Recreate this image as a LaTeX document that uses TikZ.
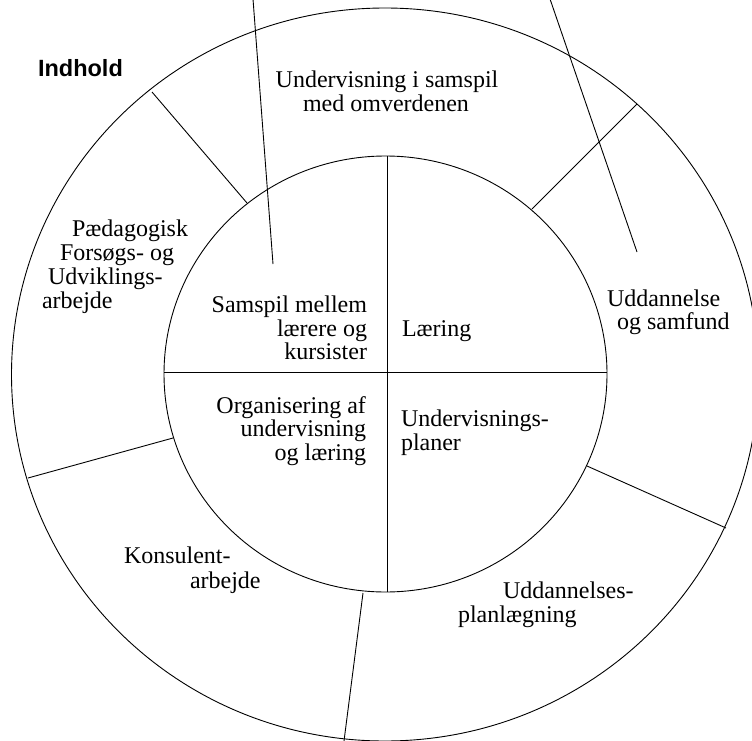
\documentclass[tikz,border=0pt]{standalone}
\usepackage{fontspec}
\setmainfont{Liberation Serif}
\newfontfamily\headfont{Liberation Sans}
\begin{document}
\begin{tikzpicture}[x=1pt,y=-1pt,
  ln/.style={line width=0.9pt, black},
  lbl/.style={inner sep=0pt, outer sep=0pt, font=\fontsize{24}{24}\selectfont},
  head/.style={inner sep=0pt, outer sep=0pt, font=\headfont\bfseries\fontsize{23.5}{24}\selectfont}]
\useasboundingbox (0,0) rectangle (752,741);
\fill[white] (0,0) rectangle (752,741);
\clip (0,0) rectangle (752,741);

% rings
\draw[ln] (385,374.5) ellipse [x radius=373.5pt, y radius=366.5pt];
\draw[ln] (385.5,374) ellipse [x radius=221.5pt, y radius=218pt];

% inner quadrants
\coordinate (iT) at (387,156);
\coordinate (iB) at (387,592);
\coordinate (iL) at (164,372);
\coordinate (iR) at (607,372);
\draw[ln] (iT) -- (iB);
\draw[ln] (iL) -- (iR);

% outer ring dividers
\coordinate (o1) at (152,92);   \coordinate (i1) at (247,203);
\coordinate (o2) at (637,104);  \coordinate (i2) at (532,209);
\coordinate (o3) at (726,528);  \coordinate (i3) at (587,466);
\coordinate (o4) at (344,741);  \coordinate (i4) at (363,593);
\coordinate (o5) at (28,478);   \coordinate (i5) at (173,438);
\draw[ln] (i1) -- (o1);
\draw[ln] (i2) -- (o2);
\draw[ln] (i3) -- (o3);
\draw[ln] (i4) -- (o4);
\draw[ln] (i5) -- (o5);

% leader lines
\coordinate (p1) at (253,-1);  \coordinate (q1) at (273,264);
\coordinate (p2) at (550,-1);  \coordinate (q2) at (637,252);
\draw[ln] (p1) -- (q1);
\draw[ln] (p2) -- (q2);

% texts
\node[head, anchor=base west] (ind) at (38,77) {Indhold};

\node[lbl, anchor=base] (u1) at (387,88) {Undervisning i samspil};
\node[lbl, anchor=base] (u2) at (386,112) {med omverdenen};

\node[lbl, anchor=base west] (pa1) at (72,236) {Pædagogisk};
\node[lbl, anchor=base west] (pa2) at (60,260) {Forsøgs- og};
\node[lbl, anchor=base west] (pa3) at (48,284) {Udviklings-};
\node[lbl, anchor=base west] (pa4) at (42,308) {arbejde};

\node[lbl, anchor=base east] (s1) at (367,312) {Samspil mellem};
\node[lbl, anchor=base east] (s2) at (367,336) {lærere og};
\node[lbl, anchor=base east] (s3) at (367,359) {kursister};

\node[lbl, anchor=base west] (lae) at (402,336) {Læring};

\node[lbl, anchor=base east] (or1) at (366,413) {Organisering af};
\node[lbl, anchor=base east] (or2) at (366,436) {undervisning};
\node[lbl, anchor=base east] (or3) at (366,460) {og læring};

\node[lbl, anchor=base west] (up1) at (401,426) {Undervisnings-};
\node[lbl, anchor=base west] (up2) at (401,450) {planer};

\node[lbl, anchor=base west] (us1) at (607,306) {Uddannelse};
\node[lbl, anchor=base west] (us2) at (617,329) {og samfund};

\node[lbl, anchor=base west] (k1) at (124,563) {Konsulent-};
\node[lbl, anchor=base west] (k2) at (190,588) {arbejde};

\node[lbl, anchor=base west] (pl1) at (503,598) {Uddannelses-};
\node[lbl, anchor=base west] (pl2) at (458,622) {planlægning};
\end{tikzpicture}
\end{document}
